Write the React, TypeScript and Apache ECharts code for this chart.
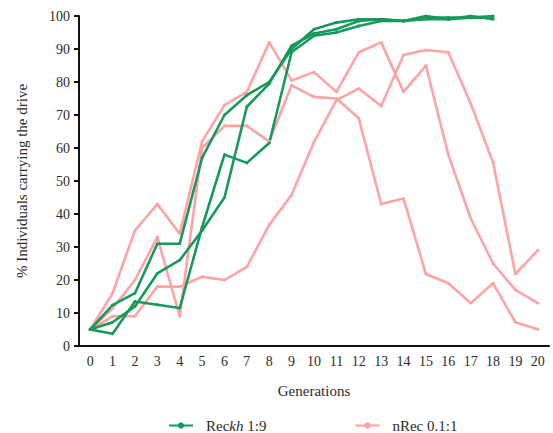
import React, { useEffect, useRef } from "react";
import * as echarts from "echarts";

const generations = ["0","1","2","3","4","5","6","7","8","9","10","11","12","13","14","15","16","17","18","19","20"];
const yTicks = [0, 10, 20, 30, 40, 50, 60, 70, 80, 90, 100];

const recName = "Reckh 1:9";
const nrecName = "nRec 0.1:1";

const recA = [5, 12.4, 16, 31, 31, 57, 70, 76, 80, 90, 96, 98, 99, 99, 98.5, 100, 99, 100, 99];
const recB = [5, 3.7, 13.5, 12.5, 11.5, 36, 58, 55.5, 61.5, 89, 94, 95, 97, 98.5, 98.5, 99.5, 99.5, 99.5, 99.5];
const recC = [5, 7.2, 12, 22, 26, 35, 45, 72.5, 79.5, 91, 94.7, 96, 98.5, 99, 98.5, 99, 99, 99.5, 100];

const nrecA = [5, 16, 35, 43, 34, 62, 73, 77, 92, 80.5, 83, 77, 89, 92, 77, 85, 58, 38.7, 25, 17, 13];
const nrecB = [5, 11.4, 20, 33, 9, 60, 66.7, 66.7, 62, 79, 75.5, 75, 69, 43, 44.7, 21.8, 19, 13, 19, 7.2, 5.1];
const nrecC = [5, 9, 9, 18, 18, 21, 20, 24, 36.7, 45.8, 61.8, 74.5, 78, 72.7, 88.2, 89.7, 89, 73.5, 55.7, 21.8, 29];

const GREEN = "#169a5c";
const PINK = "#ffa3a3";
const FONT = "'Liberation Serif', 'Times New Roman', serif";
const TXT = "#2b2b2b";

export default function App() {
  const ref = useRef<HTMLDivElement>(null);
  useEffect(() => {
    if (!ref.current) return;
    const chart = echarts.init(ref.current, undefined, { renderer: "svg" });
    const mk = (name: string, data: number[], color: string) => ({
      type: "line",
      name,
      data,
      symbol: "circle",
      symbolSize: 3,
      showSymbol: true,
      lineStyle: { color, width: 2.6 },
      itemStyle: { color },
      emphasis: { disabled: true },
    });
    chart.setOption({
      animation: false,
      textStyle: { fontFamily: FONT },
      grid: { left: 79, right: 4, top: 16, bottom: 87, containLabel: false },
      legend: {
        data: [recName, nrecName],
        left: 163,
        top: 413,
        itemWidth: 24,
        itemHeight: 8,
        itemGap: 88,
        textStyle: {
          fontFamily: FONT,
          fontSize: 15,
          color: TXT,
          rich: {
            n: { fontFamily: FONT, fontSize: 15, color: TXT },
            p: { fontFamily: FONT, fontSize: 15, color: TXT, padding: [0, 0, 0, 8] },
            i: { fontFamily: FONT, fontSize: 15, color: TXT, fontStyle: "italic" },
          },
        },
        formatter: (name: string) =>
          name === recName ? "{p|Rec}{i|kh}{n| 1:9}" : "{p|" + name + "}",
      },
      xAxis: {
        type: "category",
        data: generations,
        boundaryGap: true,
        name: "Generations",
        nameLocation: "middle",
        nameGap: 37,
        nameTextStyle: { fontFamily: FONT, fontSize: 15, color: TXT },
        axisLine: { lineStyle: { color: "#111", width: 2 } },
        axisTick: { alignWithLabel: true, length: 5, lineStyle: { color: "#111", width: 2 } },
        axisLabel: { fontFamily: FONT, fontSize: 14, color: TXT, margin: 8, interval: 0 },
        splitLine: { show: false },
      },
      yAxis: {
        type: "value",
        min: yTicks[0],
        max: yTicks[yTicks.length - 1],
        interval: 10,
        name: "% Individuals carrying the drive",
        nameLocation: "middle",
        nameGap: 50,
        nameTextStyle: { fontFamily: FONT, fontSize: 15, color: TXT },
        axisLine: { show: true, lineStyle: { color: "#111", width: 2 } },
        axisTick: { show: true, length: 5, lineStyle: { color: "#111", width: 2 } },
        axisLabel: { fontFamily: FONT, fontSize: 14, color: TXT, margin: 9 },
        splitLine: { show: false },
      },
      series: [
        mk(nrecName, nrecA, PINK),
        mk(nrecName, nrecB, PINK),
        mk(nrecName, nrecC, PINK),
        mk(recName, recA, GREEN),
        mk(recName, recB, GREEN),
        mk(recName, recC, GREEN),
      ],
    });
    return () => chart.dispose();
  }, []);
  return (
    <div
      ref={ref}
      style={{ position: "fixed", left: 0, top: 0, width: 553, height: 433, background: "#fff" }}
    />
  );
}
